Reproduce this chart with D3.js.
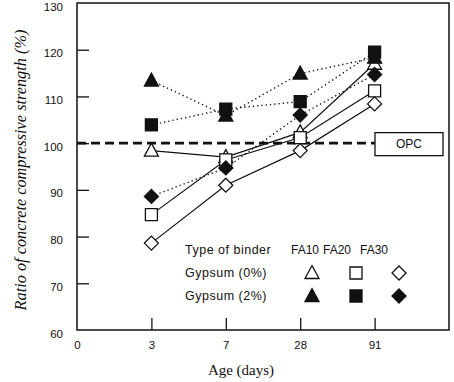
<!DOCTYPE html>
<html>
<head>
<meta charset="utf-8">
<script src="https://cdn.jsdelivr.net/npm/d3@7"></script>
<style>
  body { margin: 0; background: #fff; }
  svg text { fill: #111; }
</style>
</head>
<body>
<div id="chart"></div>
<script>
// values
const ageTicks = ["0", "3", "7", "28", "91"];
const ages = ["3", "7", "28", "91"];
const yTicks = [60, 70, 80, 90, 100, 110, 120, 130];
const binders = ["FA10", "FA20", "FA30"];

const fa10_g0 = [98.4, 97.0, 102.3, 117.0];
const fa20_g0 = [84.7, 96.4, 101.2, 111.2];
const fa30_g0 = [78.6, 91.0, 98.4, 108.4];
const fa10_g2 = [113.4, 105.9, 114.9, 118.3];
const fa20_g2 = [103.9, 107.3, 108.9, 119.5];
const fa30_g2 = [88.6, 94.7, 106.0, 114.7];
const opcLevel = 100;

const series = [
  { name: "FA10 0%", values: fa10_g0, shape: "tri", filled: false },
  { name: "FA20 0%", values: fa20_g0, shape: "sq", filled: false },
  { name: "FA30 0%", values: fa30_g0, shape: "dia", filled: false },
  { name: "FA10 2%", values: fa10_g2, shape: "tri", filled: true },
  { name: "FA20 2%", values: fa20_g2, shape: "sq", filled: true },
  { name: "FA30 2%", values: fa30_g2, shape: "dia", filled: true }
];

const width = 454, height = 382;
const m = { left: 77, right: 449, top: 3, bottom: 330 };

const svg = d3.select("#chart").append("svg")
  .attr("width", width)
  .attr("height", height);

const x = d3.scalePoint()
  .domain(ageTicks.concat(["end"]))
  .range([m.left, m.right]);

const y = d3.scaleLinear()
  .domain([60, 130])
  .range([m.bottom, m.top]);

// frame
svg.append("rect")
  .attr("x", m.left).attr("y", m.top)
  .attr("width", m.right - m.left).attr("height", m.bottom - m.top)
  .attr("fill", "none").attr("stroke", "#111").attr("stroke-width", 1.5);

// y axis, ticks point inward
const yAxis = svg.append("g")
  .attr("transform", `translate(${m.left},0)`)
  .call(d3.axisLeft(y).tickValues(yTicks).tickSize(-12).tickPadding(14));
yAxis.select(".domain").remove();
yAxis.selectAll(".tick line").attr("stroke", "#111").attr("stroke-width", 1.3);
yAxis.selectAll(".tick").filter(d => d === 60 || d === 130).select("line").remove();
yAxis.selectAll("text")
  .attr("font-family", "Liberation Sans, Arial, sans-serif")
  .attr("font-size", 11.5).attr("dy", "0.62em").attr("fill", "#333");

// x axis, ticks point upward
const xAxis = svg.append("g")
  .attr("transform", `translate(0,${m.bottom})`)
  .call(d3.axisBottom(x).tickValues(ageTicks).tickSize(-12).tickPadding(11));
xAxis.select(".domain").remove();
xAxis.selectAll(".tick line").attr("stroke", "#111").attr("stroke-width", 1.3);
xAxis.selectAll(".tick").filter(d => d === "0").select("line").remove();
xAxis.selectAll("text")
  .attr("font-family", "Liberation Sans, Arial, sans-serif")
  .attr("font-size", 11.5).attr("fill", "#333");

// axis titles
svg.append("text")
  .attr("x", 241).attr("y", 375)
  .attr("text-anchor", "middle")
  .attr("font-family", "Liberation Serif, Times New Roman, serif")
  .attr("font-size", 15)
  .text("Age (days)");

svg.append("text")
  .attr("transform", "translate(26,170) rotate(-90)")
  .attr("text-anchor", "middle")
  .attr("font-family", "Liberation Serif, Times New Roman, serif")
  .attr("font-size", 16.3)
  .attr("font-style", "italic")
  .text("Ratio of concrete  compressive strength  (%)");

// OPC reference line and box
const boxX = 375, boxW = 68, boxH = 23;
svg.append("line")
  .attr("x1", m.left).attr("x2", boxX)
  .attr("y1", y(opcLevel)).attr("y2", y(opcLevel))
  .attr("stroke", "#111").attr("stroke-width", 2.6)
  .attr("stroke-dasharray", "9,5");
svg.append("rect")
  .attr("x", boxX).attr("y", y(opcLevel) - boxH / 2 + 1)
  .attr("width", boxW).attr("height", boxH)
  .attr("fill", "#fff").attr("stroke", "#111").attr("stroke-width", 1.3);
svg.append("text")
  .attr("x", boxX + boxW / 2).attr("y", y(opcLevel) + 5)
  .attr("text-anchor", "middle")
  .attr("font-family", "Liberation Sans, Arial, sans-serif")
  .attr("font-size", 12)
  .text("OPC");

// lines
const line = d3.line()
  .x((d, i) => x(ages[i]))
  .y(d => y(d));

svg.selectAll(".series")
  .data(series)
  .enter()
  .append("path")
  .attr("d", d => line(d.values))
  .attr("fill", "none")
  .attr("stroke", "#111")
  .attr("stroke-width", d => d.filled ? 1.4 : 1.2)
  .attr("stroke-dasharray", d => d.filled ? "1.3,3" : null);

function symbolPath(shape) {
  if (shape === "tri") return "M0,-7.5L7,5.5L-7,5.5Z";
  if (shape === "sq") return "M-6,-6L6,-6L6,6L-6,6Z";
  return "M0,-7L7,0L0,7L-7,0Z";
}

function drawMarker(g, shape, filled) {
  g.append("path")
    .attr("d", symbolPath(shape))
    .attr("fill", filled ? "#111" : "#fff")
    .attr("stroke", "#111")
    .attr("stroke-width", 1.3);
}

// markers, open ones first then filled ones
series.forEach(s => {
  s.values.forEach((v, i) => {
    const g = svg.append("g").attr("transform", `translate(${x(ages[i])},${y(v)})`);
    drawMarker(g, s.shape, s.filled);
  });
});

// legend
const legFont = "Liberation Sans, Arial, sans-serif";
const legend = svg.append("g");
const rowLabels = legend.append("g")
  .attr("font-family", legFont).attr("font-size", 12.5)
  .attr("letter-spacing", 0.5);
rowLabels.append("text").attr("x", 185).attr("y", 254).text("Type of binder");
rowLabels.append("text").attr("x", 185).attr("y", 277).text("Gypsum (0%)");
rowLabels.append("text").attr("x", 185).attr("y", 300).text("Gypsum (2%)");

const headX = [291, 323, 360];
legend.append("g")
  .attr("font-family", legFont).attr("font-size", 12)
  .selectAll("text")
  .data(binders)
  .enter()
  .append("text")
  .attr("x", (d, i) => headX[i]).attr("y", 254)
  .text(d => d);
legend.selectAll("text").attr("fill", "#222");

const legX = [312, 356, 399];
const legShapes = ["tri", "sq", "dia"];
legShapes.forEach((sh, i) => {
  drawMarker(legend.append("g").attr("transform", `translate(${legX[i]},273)`), sh, false);
  drawMarker(legend.append("g").attr("transform", `translate(${legX[i]},296)`), sh, true);
});
</script>
</body>
</html>
